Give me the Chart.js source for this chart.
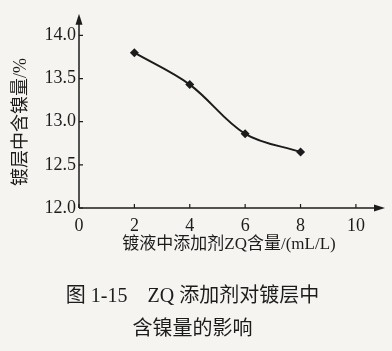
<!DOCTYPE html>
<html>
<head>
<meta charset="utf-8">
<script src="https://cdn.jsdelivr.net/npm/chart.js@4"></script>
<style>
    html, body { margin: 0; padding: 0; background: #f5f4f0; }
    #wrap { width: 392px; height: 351px; }
</style>
</head>
<body>
<div id="wrap"><canvas id="chart" width="392" height="351"></canvas></div>
<script>
const zqContent = [2, 4, 6, 8];
const nickelContent = [13.8, 13.43, 12.86, 12.65];
const xTicks = [0, 2, 4, 6, 8, 10];
const yTicks = [12.0, 12.5, 13.0, 13.5, 14.0];

const xTitle = "镀液中添加剂ZQ含量/(mL/L)";
const yTitle = "镀层中含镍量/%";
const caption = ["图 1-15    ZQ 添加剂对镀层中", "含镍量的影响"];

const ink = "#1c1c1c";
const serif = "'Liberation Serif', 'Noto Sans CJK SC', serif";

// axes with arrows, inward tick marks and the two axis titles
const axesPlugin = {
    id: "axes",
    afterDraw(chart) {
        const { ctx, chartArea } = chart;
        const x = chart.scales.x;
        const y = chart.scales.y;
        const x0 = x.getPixelForValue(0);
        const y0 = y.getPixelForValue(12);

        ctx.save();
        ctx.strokeStyle = ink;
        ctx.fillStyle = ink;
        ctx.lineWidth = 1.5;

        ctx.beginPath();
        ctx.moveTo(x0, y0);
        ctx.lineTo(x0, chartArea.top + 4);
        ctx.moveTo(x0, y0);
        ctx.lineTo(chartArea.right - 4, y0);
        ctx.stroke();

        // arrow heads
        ctx.beginPath();
        ctx.moveTo(x0, chartArea.top);
        ctx.lineTo(x0 - 3.5, chartArea.top + 11);
        ctx.lineTo(x0 + 3.5, chartArea.top + 11);
        ctx.closePath();
        ctx.fill();

        ctx.beginPath();
        ctx.moveTo(chartArea.right, y0);
        ctx.lineTo(chartArea.right - 11, y0 - 3.5);
        ctx.lineTo(chartArea.right - 11, y0 + 3.5);
        ctx.closePath();
        ctx.fill();

        ctx.lineWidth = 1.2;
        ctx.beginPath();
        yTicks.forEach(v => {
            const py = y.getPixelForValue(v);
            ctx.moveTo(x0, py);
            ctx.lineTo(x0 + 4, py);
        });
        xTicks.forEach(v => {
            const px = x.getPixelForValue(v);
            ctx.moveTo(px, y0);
            ctx.lineTo(px, y0 - 4);
        });
        ctx.stroke();

        ctx.font = "17px " + serif;
        ctx.textAlign = "center";
        ctx.textBaseline = "middle";
        ctx.fillText(xTitle, 229, 245);

        ctx.font = "18px " + serif;
        ctx.translate(21, 122);
        ctx.rotate(-Math.PI / 2);
        ctx.fillText(yTitle, 0, 0);
        ctx.restore();
    }
};

function buildChart(canvasId) {
    const ctx = document.getElementById(canvasId).getContext("2d");
    return new Chart(ctx, {
        type: "line",
        data: {
            datasets: [
                {
                    data: zqContent.map((v, i) => ({ x: v, y: nickelContent[i] })),
                    borderColor: ink,
                    backgroundColor: ink,
                    borderWidth: 2,
                    tension: 0.35,
                    pointStyle: "rectRot",
                    pointRadius: 4.5,
                    pointBorderWidth: 0
                }
            ]
        },
        options: {
            responsive: false,
            animation: false,
            layout: {
                padding: { left: 0, right: 7, top: 5, bottom: 5 }
            },
            plugins: {
                legend: { display: false },
                tooltip: { enabled: false },
                title: {
                    display: true,
                    position: "bottom",
                    text: caption,
                    color: ink,
                    font: { family: serif, size: 20, weight: "normal", lineHeight: "33px" },
                    padding: 0
                }
            },
            scales: {
                x: {
                    type: "linear",
                    min: 0,
                    max: 11.05,
                    grid: { display: false, drawTicks: false },
                    border: { display: false },
                    afterBuildTicks: scale => {
                        scale.ticks = xTicks.map(v => ({ value: v }));
                    },
                    afterFit: scale => {
                        scale.height = 72;
                    },
                    ticks: {
                        color: ink,
                        padding: 7,
                        maxRotation: 0,
                        font: { family: serif, size: 18 },
                        callback: v => String(v)
                    }
                },
                y: {
                    min: 12,
                    max: 14.25,
                    grid: { display: false, drawTicks: false },
                    border: { display: false },
                    afterBuildTicks: scale => {
                        scale.ticks = yTicks.map(v => ({ value: v }));
                    },
                    afterFit: scale => {
                        scale.width = 79;
                    },
                    ticks: {
                        color: ink,
                        padding: 3,
                        font: { family: serif, size: 18 },
                        callback: v => Number(v).toFixed(1)
                    }
                }
            }
        },
        plugins: [axesPlugin]
    });
}

window.addEventListener("DOMContentLoaded", () => {
    buildChart("chart");
});
</script>
</body>
</html>
